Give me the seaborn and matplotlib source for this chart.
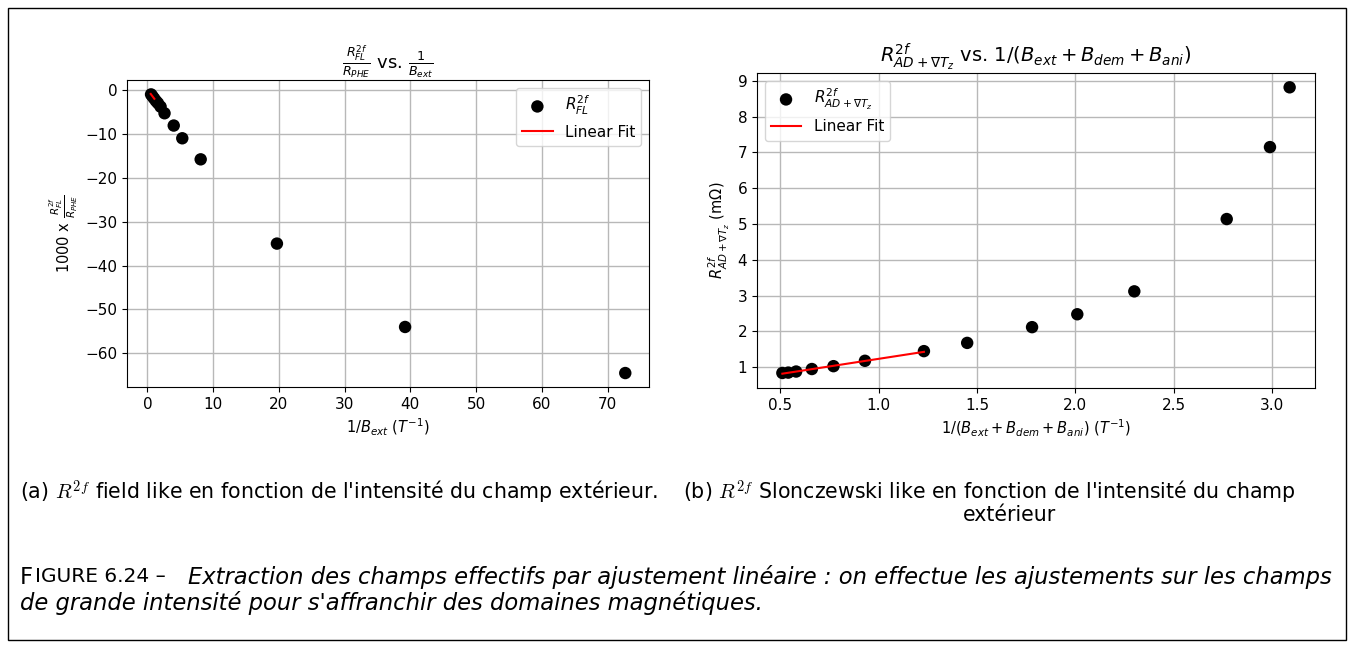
import matplotlib
matplotlib.use("Agg")
import matplotlib.pyplot as plt
import seaborn as sns
import pandas as pd
from matplotlib.patches import Rectangle

# ---- data ----
fl_x = [0.55, 0.75, 1.0, 1.3, 1.6, 2.0, 2.6, 4.0, 5.3, 8.1, 19.7, 39.2, 72.7]
fl_y = [-1.0, -1.4, -1.9, -2.5, -3.0, -3.8, -5.3, -8.1, -11.0, -15.8, -35.0, -54.0, -64.5]
fl_fit_x = [0.5, 1.05]
fl_fit_y = [-0.9, -2.0]

ad_x = [0.51, 0.54, 0.58, 0.66, 0.77, 0.93, 1.23, 1.45, 1.78, 2.01, 2.30, 2.77, 2.99, 3.09]
ad_y = [0.84, 0.85, 0.88, 0.95, 1.03, 1.18, 1.45, 1.68, 2.12, 2.48, 3.12, 5.14, 7.15, 8.82]
ad_fit_x = [0.51, 1.23]
ad_fit_y = [0.82, 1.43]

W, H = 1355, 648
fig = plt.figure(figsize=(W / 100, H / 100), dpi=100)

def px(l, t, r, b):
    return [l / W, 1 - b / H, (r - l) / W, (b - t) / H]

ax1 = fig.add_axes(px(127, 80, 649, 387))
ax2 = fig.add_axes(px(757, 73, 1315, 388))

df1 = pd.DataFrame({"x": fl_x, "y": fl_y})
sns.scatterplot(data=df1, x="x", y="y", ax=ax1, color="black", s=80,
                edgecolor="none", label=r"$R^{2f}_{FL}$", zorder=3)
sns.lineplot(x=fl_fit_x, y=fl_fit_y, ax=ax1, color="red", linewidth=1.5,
             label="Linear Fit", zorder=4)
ax1.set_title(r"$\frac{R_{FL}^{2f}}{R_{PHE}}$ vs. $\frac{1}{B_{ext}}$", fontsize=13)
ax1.set_xlabel(r"$1/B_{ext}$ ($T^{-1}$)", fontsize=10.5)
ax1.set_ylabel(r"1000 x $\frac{R^{2f}_{FL}}{R_{PHE}}$", fontsize=10.5)
ax1.grid(True, color="#b8b8b8", linewidth=1)
ax1.set_axisbelow(True)
ax1.set_xticks([0, 10, 20, 30, 40, 50, 60, 70])
ax1.legend(loc="upper right", fontsize=11)

df2 = pd.DataFrame({"x": ad_x, "y": ad_y})
sns.scatterplot(data=df2, x="x", y="y", ax=ax2, color="black", s=80,
                edgecolor="none", label=r"$R^{2f}_{AD+\nabla T_z}$", zorder=3)
sns.lineplot(x=ad_fit_x, y=ad_fit_y, ax=ax2, color="red", linewidth=1.5,
             label="Linear Fit", zorder=4)
ax2.set_title(r"$R^{2f}_{AD+\nabla T_z}$ vs. $1/(B_{ext}+B_{dem}+B_{ani})$", fontsize=14)
ax2.set_xlabel(r"$1/(B_{ext}+B_{dem}+B_{ani})$ ($T^{-1}$)", fontsize=10.5)
ax2.set_ylabel(r"$R^{2f}_{AD+\nabla T_z}$ (m$\Omega$)", fontsize=10.5)
ax2.grid(True, color="#b8b8b8", linewidth=1)
ax2.set_axisbelow(True)
ax2.set_yticks(range(1, 10))
ax2.legend(loc="upper left", fontsize=11)

for ax in (ax1, ax2):
    ax.tick_params(labelsize=11)

# captions
fs = 14.8
fig.text(20 / W, 1 - 492 / H,
         r"(a) $R^{2f}$ field like en fonction de l'intensité du champ extérieur.",
         fontsize=fs, va="center", ha="left", math_fontfamily="cm")
fig.text(683 / W, 1 - 492 / H,
         r"(b) $R^{2f}$ Slonczewski like en fonction de l'intensité du champ",
         fontsize=fs, va="center", ha="left", math_fontfamily="cm")
fig.text(1010 / W, 1 - 515 / H, "extérieur", fontsize=fs, va="center", ha="center")

fs2 = 16.3
fig.text(20 / W, 1 - 577 / H, "F", fontsize=fs2, va="center", ha="left")
fig.text(35 / W, 1 - 577 / H,
         "IGURE 6.24 –", fontsize=14.5, va="center", ha="left")
fig.text(188 / W, 1 - 577 / H,
         "Extraction des champs effectifs par ajustement linéaire : on effectue les ajustements sur les champs",
         fontsize=fs2, style="italic", va="center", ha="left")
fig.text(20 / W, 1 - 603 / H,
         "de grande intensité pour s'affranchir des domaines magnétiques.",
         fontsize=fs2, style="italic", va="center", ha="left")

fig.patches.append(Rectangle((8 / W, 1 - 640 / H), (1346 - 8) / W, (640 - 8) / H,
                             transform=fig.transFigure, fill=False,
                             edgecolor="black", linewidth=1))

fig.savefig("out.png", dpi=100)
